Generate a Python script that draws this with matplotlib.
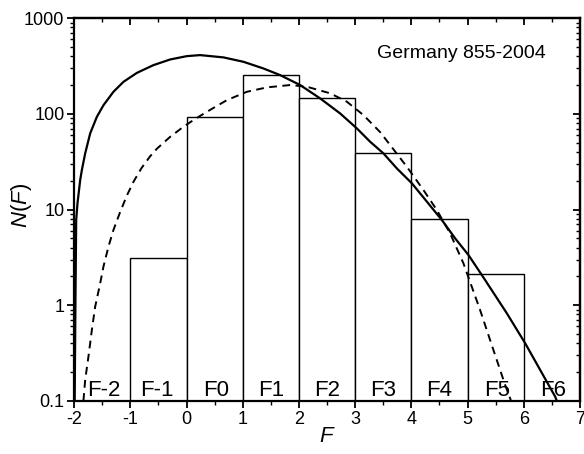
import numpy as np
import matplotlib
matplotlib.use("Agg")
import matplotlib.pyplot as plt
from matplotlib.ticker import LogLocator, FuncFormatter, MultipleLocator, NullFormatter

plt.rcParams['font.family'] = ['Liberation Sans', 'DejaVu Sans']
plt.rcParams['axes.unicode_minus'] = False
plt.rcParams['mathtext.fontset'] = 'custom'
plt.rcParams['mathtext.rm'] = 'Liberation Sans'
plt.rcParams['mathtext.it'] = 'Liberation Sans:italic'

# histogram of tornado intensity classes
bin_left = [-1, 0, 1, 2, 3, 4, 5]
counts = [3, 92, 255, 145, 39, 7.8, 2]
class_labels = ['F-2', 'F-1', 'F0', 'F1', 'F2', 'F3', 'F4', 'F5', 'F6']
label_x = [-1.48, -0.52, 0.52, 1.5, 2.5, 3.5, 4.5, 5.52, 6.52]

# solid fitted curve
solid_x = [-1.991, -1.977, -1.964, -1.941, -1.893, -1.863, -1.804, -1.715, -1.596, -1.479,
           -1.301, -1.123, -0.884, -0.589, -0.292, 0.005, 0.242, 0.657, 1.012, 1.368,
           1.665, 2.021, 2.377, 2.733, 3.030, 3.267, 3.504, 3.742, 4.009, 4.276,
           4.543, 4.779, 5.016, 5.283, 5.699, 6.025, 6.292, 6.559, 6.589]
solid_y = [0.1, 1.13, 7.77, 11.6, 20.3, 25.9, 38.6, 62.5, 93.1, 123,
           170, 216, 268, 323, 370, 401, 411, 389, 350, 298,
           254, 200, 145, 101, 70.5, 51.1, 38.6, 26.9, 18.8, 12.1,
           7.77, 5.0, 3.35, 1.95, 0.824, 0.401, 0.211, 0.111, 0.1]

# dashed fitted curve
dashed_x = [-1.835, -1.804, -1.746, -1.685, -1.626, -1.537, -1.479, -1.390, -1.301, -1.181,
            -1.062, -0.94, -0.80, -0.65, -0.528, -0.292, -0.055, 0.064, 0.19, 0.361,
            0.717, 1.073, 1.429, 1.843, 2.141, 2.555, 2.852, 3.148, 3.445, 3.623,
            3.920, 4.215, 4.454, 4.690, 4.927, 5.224, 5.461, 5.669, 5.775]
dashed_y = [0.1, 0.166, 0.290, 0.552, 0.966, 1.69, 2.53, 4.09, 6.11, 9.44,
            14.0, 19.7, 27.2, 35.9, 43.2, 57.5, 73.3, 81.7, 91.2, 105,
            139, 170, 189, 200, 192, 164, 134, 97, 64.4, 47.2,
            28.0, 16.0, 9.88, 5.64, 2.74, 0.89, 0.34, 0.147, 0.1]

fig = plt.figure(figsize=(5.84, 4.54), dpi=100)
ax = fig.add_axes([0.127, 0.117, 0.866, 0.843])

ax.bar(bin_left, counts, width=1, align='edge', bottom=0.1,
       facecolor='white', edgecolor='black', linewidth=1.0, zorder=1)
ax.plot(solid_x, solid_y, color='black', lw=1.6, zorder=3)
ax.plot(dashed_x, dashed_y, color='black', lw=1.4, ls=(0, (4, 2.8)), zorder=3)

for lx, lab in zip(label_x, class_labels):
    ax.text(lx, 0.113, lab, ha='center', va='baseline', fontsize=16, zorder=4)

ax.text(4.89, 431, 'Germany 855-2004', ha='center', va='center', fontsize=14)

ax.set_yscale('log')
ax.set_xlim(-2, 7)
ax.set_ylim(0.1, 1000)
ax.xaxis.set_major_locator(MultipleLocator(1))
ax.xaxis.set_minor_locator(MultipleLocator(0.5))
ax.yaxis.set_major_locator(LogLocator(base=10, numticks=10))
ax.yaxis.set_minor_locator(LogLocator(base=10, subs=np.arange(2, 10), numticks=10))
ax.yaxis.set_major_formatter(FuncFormatter(lambda v, p: '%g' % v))
ax.yaxis.set_minor_formatter(NullFormatter())
ax.tick_params(which='major', direction='out', length=5, width=1.3, labelsize=13, pad=2)
ax.tick_params(which='minor', direction='out', length=3, width=1.0)

# mirrored ticks on top and right, pointing inward
top = ax.secondary_xaxis('top')
top.xaxis.set_major_locator(MultipleLocator(1))
top.xaxis.set_minor_locator(MultipleLocator(0.5))
top.tick_params(which='major', direction='in', length=5, width=1.3, labeltop=False)
top.tick_params(which='minor', direction='in', length=3, width=1.0)
right = ax.secondary_yaxis('right')
right.yaxis.set_major_locator(LogLocator(base=10, numticks=10))
right.yaxis.set_minor_locator(LogLocator(base=10, subs=np.arange(2, 10), numticks=10))
right.tick_params(which='major', direction='in', length=5, width=1.3, labelright=False)
right.tick_params(which='minor', direction='in', length=3, width=1.0, labelright=False)

for sp in ax.spines.values():
    sp.set_linewidth(1.6)
top.spines['top'].set_linewidth(1.6)
right.spines['right'].set_linewidth(1.6)

ax.set_xlabel('$F$', fontsize=16, labelpad=-1)
ax.set_ylabel('$N(F)$', fontsize=16)
ax.yaxis.set_label_coords(-0.08, 0.51)

fig.savefig('out.png', dpi=100)
